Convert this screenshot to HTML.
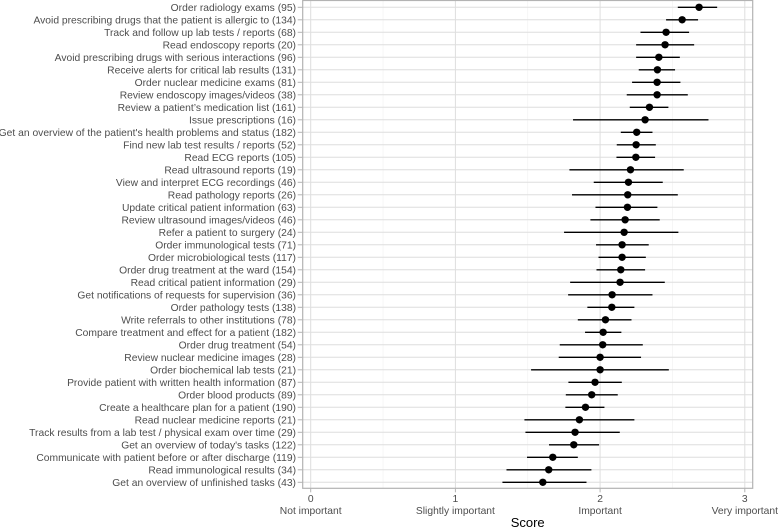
<!DOCTYPE html>
<html><head><meta charset="utf-8"><style>
html,body{margin:0;padding:0;background:#fff;}
svg{display:block;font-family:"Liberation Sans",sans-serif;}
</style></head><body>
<svg id="chart" width="778" height="529" viewBox="0 0 778 529" xmlns="http://www.w3.org/2000/svg"></svg>
<script>
const categories = ["Order radiology exams (95)","Avoid prescribing drugs that the patient is allergic to (134)","Track and follow up lab tests / reports (68)","Read endoscopy reports (20)","Avoid prescribing drugs with serious interactions (96)","Receive alerts for critical lab results (131)","Order nuclear medicine exams (81)","Review endoscopy images/videos (38)","Review a patient\u2019s medication list (161)","Issue prescriptions (16)","Get an overview of the patient's health problems and status (182)","Find new lab test results / reports (52)","Read ECG reports (105)","Read ultrasound reports (19)","View and interpret ECG recordings (46)","Read pathology reports (26)","Update critical patient information (63)","Review ultrasound images/videos (46)","Refer a patient to surgery (24)","Order immunological tests (71)","Order microbiological tests (117)","Order drug treatment at the ward (154)","Read critical patient information (29)","Get notifications of requests for supervision (36)","Order pathology tests (138)","Write referrals to other institutions (78)","Compare treatment and effect for a patient (182)","Order drug treatment (54)","Review nuclear medicine images (28)","Order biochemical lab tests (21)","Provide patient with written health information (87)","Order blood products (89)","Create a healthcare plan for a patient (190)","Read nuclear medicine reports (21)","Track results from a lab test / physical exam over time (29)","Get an overview of today's tasks (122)","Communicate with patient before or after discharge (119)","Read immunological results (34)","Get an overview of unfinished tasks (43)"];
const means = [2.684,2.567,2.456,2.449,2.406,2.396,2.394,2.394,2.341,2.311,2.253,2.249,2.247,2.210,2.196,2.191,2.189,2.173,2.166,2.152,2.152,2.143,2.138,2.083,2.081,2.037,2.021,2.018,2.0,2.0,1.965,1.942,1.899,1.857,1.827,1.818,1.673,1.645,1.604];
const lows = [2.537,2.456,2.279,2.249,2.249,2.267,2.221,2.184,2.205,1.813,2.143,2.115,2.113,1.788,1.956,1.806,1.968,1.933,1.751,1.972,1.989,1.975,1.793,1.779,1.912,1.846,1.896,1.721,1.714,1.523,1.781,1.763,1.760,1.477,1.484,1.647,1.495,1.353,1.325];
const highs = [2.809,2.677,2.615,2.650,2.551,2.518,2.555,2.606,2.472,2.749,2.362,2.385,2.380,2.578,2.433,2.537,2.396,2.412,2.541,2.336,2.316,2.311,2.447,2.362,2.237,2.217,2.147,2.295,2.283,2.475,2.150,2.122,2.030,2.237,2.136,1.993,1.846,1.940,1.906];
const tickValues = [0,1,2,3];
const tickLabels1 = ["0","1","2","3"];
const tickLabels2 = ["Not important","Slightly important","Important","Very important"];

const NS="http://www.w3.org/2000/svg";
const svg=document.getElementById('chart');
const P={l:302.7,r:752.7,t:0.5,b:488.3};
const x=v=>310.7+v*144.7;
const y=i=>7.3+i*12.5;
function mk(t,a,p){const e=document.createElementNS(NS,t);for(const k in a)e.setAttribute(k,a[k]);(p||svg).appendChild(e);return e;}

const grid=mk('g',{});


for(let v=0.5;v<3.2;v+=1){mk('line',{x1:x(v),x2:x(v),y1:P.t,y2:P.b,stroke:'#f0f0f0','stroke-width':0.6},grid);}
tickValues.forEach(v=>mk('line',{x1:x(v),x2:x(v),y1:P.t,y2:P.b,stroke:'#dedede','stroke-width':1},grid));
categories.forEach((c,i)=>mk('line',{x1:P.l,x2:P.r,y1:y(i),y2:y(i),stroke:'#dedede','stroke-width':1},grid));
const border=mk('rect',{x:P.l,y:P.t,width:P.r-P.l,height:P.b-P.t,fill:'none',stroke:'#b3b3b3','stroke-width':1.2});



categories.forEach((c,i)=>{
  const t=mk('text',{x:296,y:y(i)+3.8,'text-anchor':'end','font-size':'10.3',fill:'#4d4d4d'});
  t.textContent=c;
  
  
  mk('line',{x1:P.l-5,x2:P.l,y1:y(i),y2:y(i),stroke:'#b3b3b3'});
  const eb=mk('line',{x1:x(lows[i]),x2:x(highs[i]),y1:y(i),y2:y(i),stroke:'#000','stroke-width':1.3});
  
  
  const pt=mk('circle',{cx:x(means[i]),cy:y(i),r:3.7,fill:'#000'});
  
  
});
tickValues.forEach((v,k)=>{
  mk('line',{x1:x(v),x2:x(v),y1:P.b,y2:P.b+4,stroke:'#b3b3b3'});
  const a=mk('text',{x:x(v),y:502,'text-anchor':'middle','font-size':'10.3',fill:'#4d4d4d'});
  a.textContent=tickLabels1[k];
  
  
  const b=mk('text',{x:x(v),y:514,'text-anchor':'middle','font-size':'10.3',fill:'#4d4d4d'});
  b.textContent=tickLabels2[k];
  
  
});
const xt=mk('text',{x:(P.l+P.r)/2,y:527,'text-anchor':'middle','font-size':'13',fill:'#000'});
xt.textContent='Score';


</script>
</body></html>
